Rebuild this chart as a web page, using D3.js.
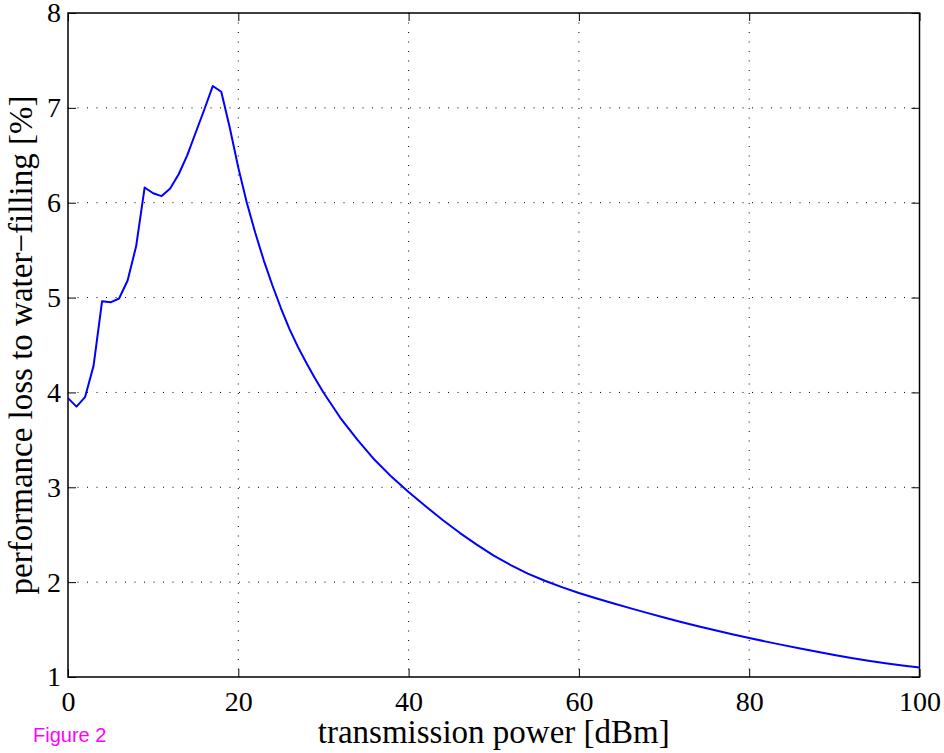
<!DOCTYPE html>
<html>
<head>
<meta charset="utf-8">
<script src="https://cdn.jsdelivr.net/npm/d3@7"></script>
<style>
  html, body { margin: 0; padding: 0; background: #fff; }
  svg { display: block; }
</style>
</head>
<body>
<svg id="chart" width="944" height="753"></svg>
<script>
// ---- data ----
const powerDbm = [0,1,2,3,4,5,6,7,8,9,10,11,12,13,14,15,16,17,18,19,20,
  21,22,23,24,25,26,27,28,29,30,32,34,36,38,40,42,44,46,48,50,52,54,56,58,60,
  62,64,66,68,70,72,74,76,78,80,82,84,86,88,90,92,94,96,98,100];
const lossPct = [3.94,3.85,3.95,4.28,4.96,4.95,4.99,5.18,5.54,6.16,6.10,6.07,6.15,6.30,6.50,6.74,6.98,7.23,7.17,6.79,6.37,
  6.00,5.68,5.39,5.13,4.89,4.67,4.48,4.31,4.15,4.00,3.73,3.50,3.29,3.11,2.95,2.80,2.655,2.52,2.395,2.28,2.18,2.09,2.015,1.947,1.885,
  1.83,1.777,1.726,1.676,1.627,1.58,1.535,1.492,1.451,1.411,1.373,1.336,1.30,1.266,1.233,1.201,1.172,1.145,1.121,1.10];
const xTicks = [0,20,40,60,80,100];
const yTicks = [1,2,3,4,5,6,7,8];
const xLabel = "transmission power [dBm]";
const yLabel = "performance loss to water\u2212filling [%]";
const figLabel = "Figure 2";

// ---- layout ----
const svg = d3.select("#chart");
const L = 68, R = 919.5, T = 13, B = 677;
const x = d3.scaleLinear().domain([0, 100]).range([L, R]);
const y = d3.scaleLinear().domain([1, 8]).range([B, T]);
const serif = "'Liberation Serif', 'Times New Roman', Times, serif";

// grid (dotted)
const grid = svg.append("g");
grid.selectAll("line.gx").data(xTicks.filter(d => d > 0 && d < 100)).enter()
  .append("line").attr("x1", d => x(d)).attr("x2", d => x(d)).attr("y1", T).attr("y2", B)
  .attr("stroke", "#000").attr("stroke-width", 1).attr("stroke-dasharray", "1,8.5");
grid.selectAll("line.gy").data(yTicks.filter(d => d > 1 && d < 8)).enter()
  .append("line").attr("y1", d => y(d)).attr("y2", d => y(d)).attr("x1", L).attr("x2", R)
  .attr("stroke", "#000").attr("stroke-width", 1).attr("stroke-dasharray", "1,8.5");

// axes
function styleAxis(g, showLabels) {
  g.select(".domain").remove();
  g.selectAll(".tick line").attr("stroke", "#000").attr("stroke-width", 1);
  g.selectAll(".tick text").attr("font-family", serif).attr("font-size", 28).attr("fill", "#000");
  if (!showLabels) g.selectAll(".tick text").remove();
}
const xAxis = svg.append("g").attr("transform", `translate(0,${B})`)
  .call(d3.axisBottom(x).tickValues(xTicks).tickSizeInner(-8).tickSizeOuter(0).tickPadding(14).tickFormat(d3.format("d")));
styleAxis(xAxis, true);
const xAxisTop = svg.append("g").attr("transform", `translate(0,${T})`)
  .call(d3.axisTop(x).tickValues(xTicks).tickSizeInner(-8).tickSizeOuter(0));
styleAxis(xAxisTop, false);
const yAxis = svg.append("g").attr("transform", `translate(${L},0)`)
  .call(d3.axisLeft(y).tickValues(yTicks).tickSizeInner(-8).tickSizeOuter(0).tickPadding(7).tickFormat(d3.format("d")));
styleAxis(yAxis, true);
const yAxisRight = svg.append("g").attr("transform", `translate(${R},0)`)
  .call(d3.axisRight(y).tickValues(yTicks).tickSizeInner(-8).tickSizeOuter(0));
styleAxis(yAxisRight, false);

// frame
svg.append("rect").attr("x", L).attr("y", T).attr("width", R - L).attr("height", B - T)
  .attr("fill", "none").attr("stroke", "#000").attr("stroke-width", 1.5);

// data line
const line = d3.line().x((d, i) => x(powerDbm[i])).y(d => y(d));
svg.append("path").datum(lossPct).attr("d", line)
  .attr("fill", "none").attr("stroke", "#0000ff").attr("stroke-width", 2).attr("stroke-linejoin", "round");

// labels
svg.append("text").attr("x", (L + R) / 2).attr("y", 743).attr("text-anchor", "middle")
  .attr("font-family", serif).attr("font-size", 33).attr("fill", "#000").text(xLabel);
svg.append("text").attr("transform", `translate(32,${(T + B) / 2}) rotate(-90)`).attr("text-anchor", "middle")
  .attr("font-family", serif).attr("font-size", 33).attr("fill", "#000").text(yLabel);
svg.append("text").attr("x", 33).attr("y", 742)
  .attr("font-family", "'Liberation Sans', Arial, Helvetica, sans-serif").attr("font-size", 20)
  .attr("fill", "#ff00ff").text(figLabel);
</script>
</body>
</html>
